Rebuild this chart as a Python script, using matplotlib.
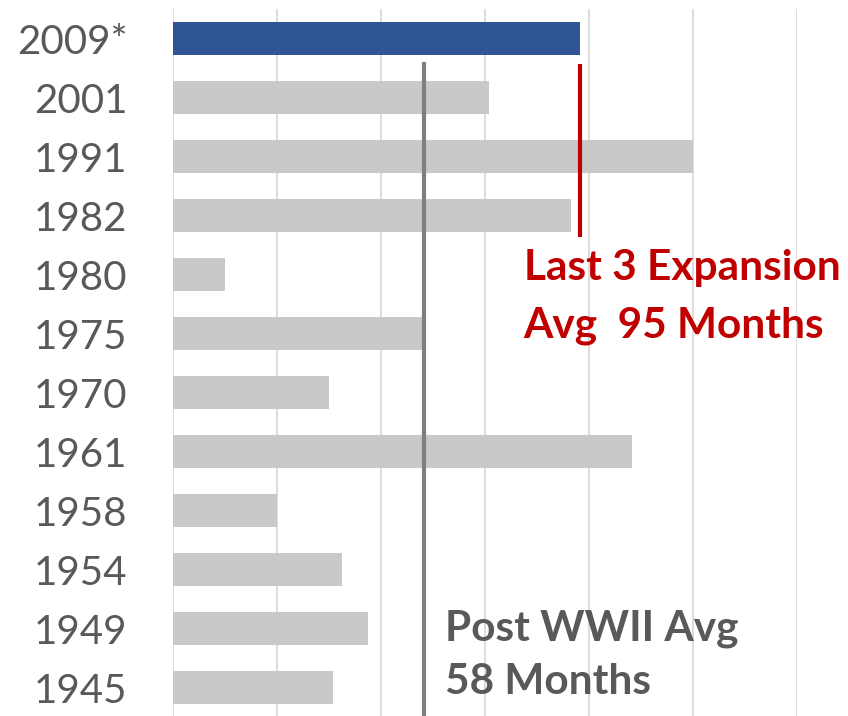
import numpy as np
import matplotlib.pyplot as plt

# expansion start years and length in months
years = ["2009*", "2001", "1991", "1982", "1980", "1975",
         "1970", "1961", "1958", "1954", "1949", "1945"]
months = [94, 73, 120, 92, 12, 58, 36, 106, 24, 39, 45, 37]

post_ww2_avg = 58
last3_avg_line = 94   # drawn at the end of the current bar
x_ticks = [0, 24, 48, 72, 96, 120, 144]

plt.rcParams['font.family'] = ['Lato', 'DejaVu Sans']

fig = plt.figure(figsize=(8.48, 7.16), dpi=100)
ax = fig.add_axes([173 / 848, 0, (796.5 - 173) / 848, 707 / 716])

y = np.arange(len(years))
colors = ['#2F5597'] + ['#C9C9C9'] * (len(years) - 1)
ax.barh(y, months, height=0.56, color=colors, zorder=2)

ax.set_xlim(0, 144)
ax.set_ylim(11.48, -0.5)
ax.set_xticks(x_ticks)
ax.grid(axis='x', color='#D9D9D9', linewidth=1.3, zorder=0)
ax.set_yticks(y)
ax.set_yticklabels(years, fontsize=29, color='#595959')
ax.tick_params(axis='y', length=0, pad=33)
ax.tick_params(axis='x', length=0, labelbottom=False)
for s in ax.spines.values():
    s.set_visible(False)

# average lines
ax.vlines(post_ww2_avg, 0.40, 11.6, color='#7F7F7F', linewidth=3, zorder=3, clip_on=False)
ax.vlines(last3_avg_line, 0.43, 3.37, color='#C00000', linewidth=3, zorder=3)

ax.text(81.0, 3.89, "Last 3 Expansion", color='#C00000', fontsize=30.5,
        fontweight='bold', va='center', ha='left', clip_on=False)
ax.text(81.0, 4.86, "Avg  95 Months", color='#C00000', fontsize=30.5,
        fontweight='bold', va='center', ha='left', clip_on=False)
ax.text(62.8, 10.0, "Post WWII Avg", color='#595959', fontsize=30.5,
        fontweight='bold', va='center', ha='left')
ax.text(62.8, 10.9, "58 Months", color='#595959', fontsize=30.5,
        fontweight='bold', va='center', ha='left')

fig.savefig("out.png", dpi=100)
